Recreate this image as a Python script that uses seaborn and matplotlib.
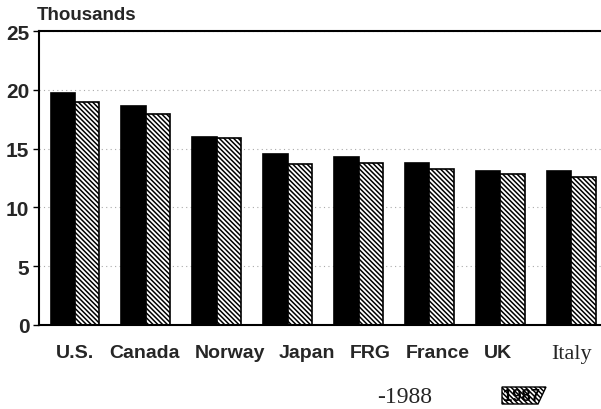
import matplotlib
matplotlib.use("Agg")
import matplotlib.pyplot as plt
import matplotlib.transforms as mtransforms
from matplotlib.patches import Polygon
import seaborn as sns
import pandas as pd

countries = ["U.S.", "Canada", "Norway", "Japan", "FRG", "France", "UK", "Italy"]
values_1988 = [19.7, 18.6, 16.0, 14.5, 14.3, 13.8, 13.1, 13.1]
values_1987 = [19.0, 17.9, 15.9, 13.7, 13.8, 13.3, 12.8, 12.6]
y_ticks = [0, 5, 10, 15, 20, 25]

df = pd.DataFrame({
    "country": countries * 2,
    "value": values_1988 + values_1987,
    "year": ["1988"] * len(countries) + ["1987"] * len(countries),
})

sns.set_style("white")
plt.rcParams["hatch.linewidth"] = 1.1

fig = plt.figure(figsize=(6.01, 4.10), dpi=100)
ax = fig.add_axes([39 / 601, 84 / 410, 562 / 601, 294 / 410])

sns.barplot(data=df, x="country", y="value", hue="year",
            hue_order=["1988", "1987"], palette=["black", "white"],
            width=0.69, dodge=True, edgecolor="black", linewidth=1.2,
            legend=False, ax=ax, errorbar=None)

for bar in ax.containers[1]:
    bar.set_hatch("\\" * 7)
    bar.set_edgecolor("black")

ax.set_xlim(-0.508, 7.42)
ax.set_ylim(0, 25)
ax.set_yticks(y_ticks)
ax.set_yticklabels([str(t) for t in y_ticks], fontfamily="Liberation Sans",
                   fontweight="bold", fontsize=15)
ax.set_xlabel("")
ax.set_ylabel("")

ax.yaxis.grid(True, linestyle=(0, (1, 3)), color="#aaaaaa", linewidth=0.8)
ax.xaxis.grid(False)
ax.set_axisbelow(True)

for side in ["left", "top", "bottom"]:
    ax.spines[side].set_visible(True)
    ax.spines[side].set_color("black")
    ax.spines[side].set_linewidth(1.5)
ax.spines["right"].set_visible(False)

ax.tick_params(axis="y", which="both", left=True, length=4, width=1, pad=3,
               color="black")
ax.tick_params(axis="x", bottom=False, pad=10)

label_offsets = [0, -1, 13, 19, 12, 8, -2, 0]
ax.set_xticks(range(len(countries)))
ticklabels = ax.set_xticklabels(countries)
for lab, off in zip(ticklabels, label_offsets):
    if lab.get_text() == "Italy":
        lab.set_fontfamily("Liberation Serif")
        lab.set_fontsize(16)
        lab.set_fontweight("normal")
    else:
        lab.set_fontfamily("Liberation Sans")
        lab.set_fontsize(14)
        lab.set_fontweight("bold")
    lab.set_transform(lab.get_transform() +
                      mtransforms.ScaledTranslation(off / 100, 0, fig.dpi_scale_trans))

fig.text(37 / 601, 1 - 15 / 410, "Thousands", fontfamily="Liberation Sans",
         fontweight="bold", fontsize=13.5, ha="left", va="center")

# legend area
fig.text(405 / 601, 1 - 398 / 410, "-1988", fontfamily="Liberation Serif",
         fontsize=17, ha="center", va="center")
poly = Polygon([(502 / 601, 1 - 388 / 410), (546 / 601, 1 - 388 / 410),
                (538 / 601, 1 - 405 / 410), (502 / 601, 1 - 405 / 410)],
               closed=True, transform=fig.transFigure, facecolor="white",
               edgecolor="black", hatch="\\" * 7, linewidth=1.0)
fig.add_artist(poly)
fig.text(522 / 601, 1 - 397 / 410, "1987", fontfamily="Liberation Sans",
         fontweight="bold", fontsize=12, ha="center", va="center", color="black")

fig.savefig("out.png", dpi=100)
